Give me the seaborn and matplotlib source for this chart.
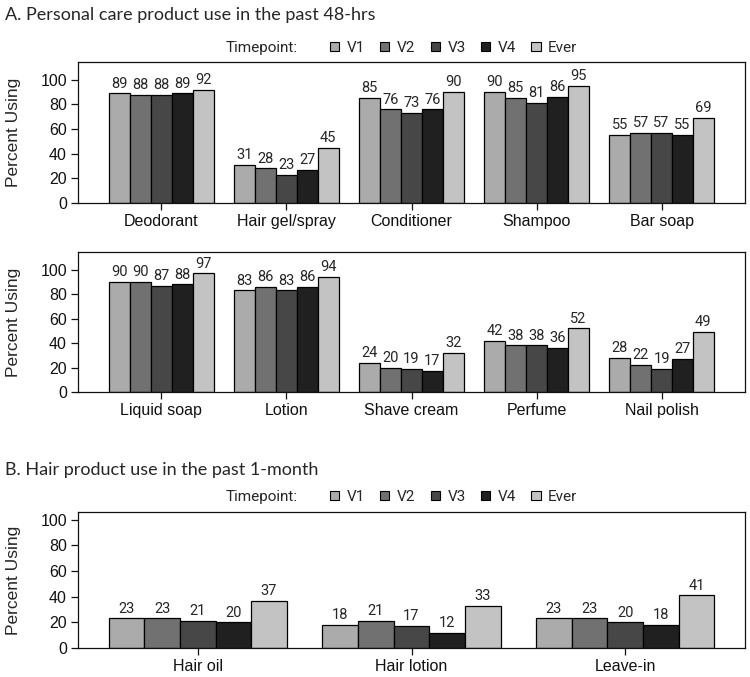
import numpy as np
import pandas as pd
import seaborn as sns
import matplotlib.pyplot as plt
from matplotlib.patches import Patch

# data
timepoints = ['V1', 'V2', 'V3', 'V4', 'Ever']

cats_a1 = ['Deodorant', 'Hair gel/spray', 'Conditioner', 'Shampoo', 'Bar soap']
a1_v1 = [89, 31, 85, 90, 55]
a1_v2 = [88, 28, 76, 85, 57]
a1_v3 = [88, 23, 73, 81, 57]
a1_v4 = [89, 27, 76, 86, 55]
a1_ever = [92, 45, 90, 95, 69]

cats_a2 = ['Liquid soap', 'Lotion', 'Shave cream', 'Perfume', 'Nail polish']
a2_v1 = [90, 83, 24, 42, 28]
a2_v2 = [90, 86, 20, 38, 22]
a2_v3 = [87, 83, 19, 38, 19]
a2_v4 = [88, 86, 17, 36, 27]
a2_ever = [97, 94, 32, 52, 49]

cats_b = ['Hair oil', 'Hair lotion', 'Leave-in']
b_v1 = [23, 18, 23]
b_v2 = [23, 21, 23]
b_v3 = [21, 17, 20]
b_v4 = [20, 12, 18]
b_ever = [37, 33, 41]

colors = {'V1': '#ababab', 'V2': '#717171', 'V3': '#474747', 'V4': '#202020', 'Ever': '#c3c3c3'}

sns.set_style("ticks")
plt.rcParams['font.family'] = ['Liberation Sans', 'DejaVu Sans']
narrow = ['Roboto', 'Liberation Sans', 'DejaVu Sans']
title_font = ['Lato', 'DejaVu Sans']

W, H = 750, 677
fig = plt.figure(figsize=(W / 100, H / 100), dpi=100)


def px_axes(left, top, right, bottom):
    return fig.add_axes([left / W, 1 - bottom / H, (right - left) / W, (bottom - top) / H])


def long_df(cats, series):
    rows = []
    for tp, vals in zip(timepoints, series):
        for c, v in zip(cats, vals):
            rows.append({'product': c, 'tp': tp, 'pct': v})
    return pd.DataFrame(rows)


def draw(ax, cats, series, ytop, xpad):
    df = long_df(cats, series)
    sns.barplot(data=df, x='product', y='pct', hue='tp', order=cats, hue_order=timepoints,
                palette=colors, width=5 / 6, edgecolor='black', linewidth=0.9,
                saturation=1, ax=ax, legend=False)
    for cont in ax.containers:
        ax.bar_label(cont, fmt='{:.0f}', padding=2, fontsize=10.5, family=narrow)
    ax.set_ylim(0, ytop)
    ax.set_xlim(-xpad, len(cats) - 1 + xpad)
    ax.set_yticks(range(0, 101, 20))
    ax.tick_params(direction='out', length=5, width=0.9, labelsize=11.5, colors='#111111', pad=3)
    ax.set_xlabel('')
    ax.set_ylabel('Percent Using', fontsize=12.5)
    ax.yaxis.set_label_coords(-0.085, 0.5)
    for s in ax.spines.values():
        s.set_visible(True)
        s.set_linewidth(0.9)
        s.set_color('#111111')


def legend_row(ypx):
    fig.text(226 / W, 1 - ypx / H, 'Timepoint:', fontsize=11, family=narrow, va='center', ha='left')
    handles = [Patch(facecolor=colors[t], edgecolor='black', linewidth=0.8) for t in timepoints]
    fig.legend(handles, timepoints, ncol=5, loc='center left',
               bbox_to_anchor=(322 / W, 1 - ypx / H), frameon=False,
               handlelength=0.6, handleheight=0.6, handletextpad=0.5,
               columnspacing=1.0, borderpad=0, prop={'family': narrow, 'size': 11})


fig.text(5 / W, 1 - 15 / H, 'A. Personal care product use in the past 48-hrs',
         fontsize=13, family=title_font, va='center', ha='left')
legend_row(48)

ax1 = px_axes(78, 62, 745, 203)
draw(ax1, cats_a1, [a1_v1, a1_v2, a1_v3, a1_v4, a1_ever], 114.4, 0.667)

ax2 = px_axes(78, 252, 745, 392)
draw(ax2, cats_a2, [a2_v1, a2_v2, a2_v3, a2_v4, a2_ever], 114.4, 0.667)

fig.text(5 / W, 1 - 470 / H, 'B. Hair product use in the past 1-month',
         fontsize=13, family=title_font, va='center', ha='left')
legend_row(497)

ax3 = px_axes(78, 512, 745, 648)
draw(ax3, cats_b, [b_v1, b_v2, b_v3, b_v4, b_ever], 106, 0.56)

fig.savefig('out.png', dpi=100)
